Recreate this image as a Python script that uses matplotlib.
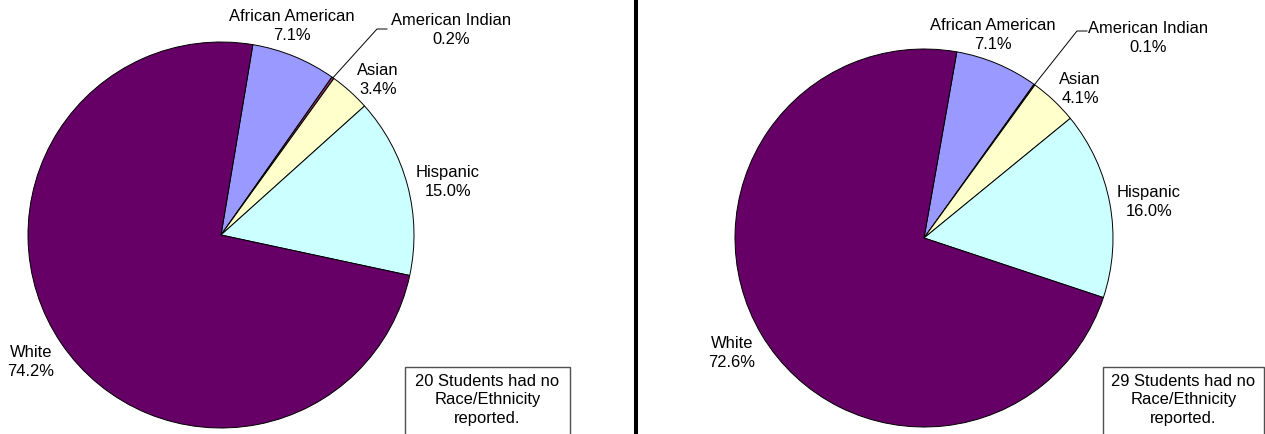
import numpy as np
import matplotlib.pyplot as plt
from matplotlib.patches import Rectangle

plt.rcParams['font.family'] = ['Liberation Sans', 'DejaVu Sans']

# Données
categories = ['African American', 'American Indian', 'Asian', 'Hispanic', 'White']
left_values = [7.1, 0.2, 3.4, 15.0, 74.2]
right_values = [7.1, 0.1, 4.1, 16.0, 72.6]
left_missing = 20
right_missing = 29
colors = ['#9999FF', '#993366', '#FFFFCC', '#CCFFFF', '#660066']

W, H = 1265, 435
FS = 11.9

fig = plt.figure(figsize=(W / 100, H / 100), dpi=100)
ax = fig.add_axes([0, 0, 1, 1])


def py(y):
    # pixel (haut) -> coordonnée données (bas)
    return H - y


def draw_pie(values, center, radius, start, label_pos, elbow, missing, box):
    wedges, _ = ax.pie(values, colors=colors, startangle=start, counterclock=False,
                       center=(center[0], py(center[1])), radius=radius,
                       wedgeprops=dict(edgecolor='black', linewidth=0.7),
                       frame=True)
    for cat, val, (lx, ly) in zip(categories, values, label_pos):
        ax.text(lx, py(ly), f"{cat}\n{val:.1f}%", ha='center', va='center',
                fontsize=FS, linespacing=1.3)
    # ligne de rappel pour American Indian
    w = wedges[1]
    mid = np.deg2rad((w.theta1 + w.theta2) / 2)
    x0 = center[0] + radius * np.cos(mid)
    y0 = py(center[1]) + radius * np.sin(mid)
    ax.plot([x0, elbow[0], elbow[0] + 10], [y0, py(elbow[1]), py(elbow[1])],
            color='black', lw=0.7)
    # encadré
    bx, by, bw = box
    ax.add_patch(Rectangle((bx, -5), bw, py(by) + 5, facecolor='white',
                           edgecolor='#505050', lw=1.0))
    ax.text(bx + bw / 2, py(by + 32), f"{missing} Students had no\nRace/Ethnicity\nreported.",
            ha='center', va='center', fontsize=FS, linespacing=1.3)


draw_pie(left_values, (221, 236), 193, 80.5,
         [(292, 26), (451, 30), (378, 80), (448, 182), (31, 362)],
         (377, 30), left_missing, (405, 368, 165))
draw_pie(right_values, (924, 239), 189, 80,
         [(993, 35), (1148, 38), (1080, 89), (1149, 202), (732, 353)],
         (1077, 32), right_missing, (1103, 368, 161))

ax.set_xlim(0, W)
ax.set_ylim(0, H)
ax.set_aspect('equal')
ax.axis('off')

# séparateur vertical
ax.plot([636, 636], [0, H], color='black', lw=2.9, solid_capstyle='butt')

fig.savefig('out.png', dpi=100)
